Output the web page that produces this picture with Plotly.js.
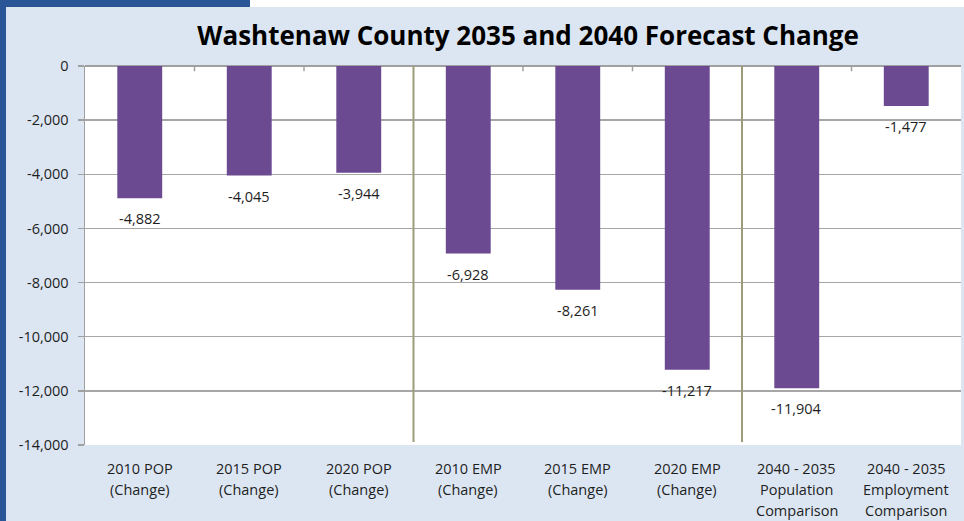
<!DOCTYPE html>
<html>
<head>
<meta charset="utf-8">
<script src="https://cdn.plot.ly/plotly-3.0.1.min.js"></script>
<style>
  html, body { margin: 0; padding: 0; background: #ffffff; }
  #wrap { position: relative; width: 964px; height: 521px; overflow: hidden; background: #ffffff; }
  #bandLeft { position: absolute; left: 0; top: 0; width: 6px; height: 521px; background: #2A5597; }
  #bandTop { position: absolute; left: 0; top: 0; width: 250px; height: 7px; background: #2A5597; }
  #chart { position: absolute; left: 6px; top: 7px; width: 958px; height: 514px; }
</style>
</head>
<body>
<div id="wrap">
  <div id="bandLeft"></div>
  <div id="bandTop"></div>
  <div id="chart"></div>
</div>
<script>
const categories = [
  "2010 POP<br>(Change)",
  "2015 POP<br>(Change)",
  "2020 POP<br>(Change)",
  "2010 EMP<br>(Change)",
  "2015 EMP<br>(Change)",
  "2020 EMP<br>(Change)",
  "2040 - 2035<br>Population<br>Comparison",
  "2040 - 2035<br>Employment<br>Comparison"
];
const changeValues = [-4882, -4045, -3944, -6928, -8261, -11217, -11904, -1477];
const yTickValues = [0, -2000, -4000, -6000, -8000, -10000, -12000, -14000];

const fmt = v => v.toLocaleString('en-US');
const fontFam = '"Open Sans", "Liberation Sans", Arial, sans-serif';
const txtColor = '#1e1e1e';

const bars = {
  type: 'bar',
  x: categories,
  y: changeValues,
  width: 0.41,
  marker: { color: '#6B4A92', line: { width: 0 } },
  hoverinfo: 'skip',
  showlegend: false
};

const valueLabels = categories.map((c, i) => ({
  x: c, y: changeValues[i], xref: 'x', yref: 'y',
  text: fmt(changeValues[i]), showarrow: false,
  yanchor: 'top', yshift: -9,
  font: { family: fontFam, size: 14.5, color: txtColor }
}));

const catLabels = [];
categories.forEach(c => {
  c.split('<br>').forEach((line, j) => {
    catLabels.push({
      x: c, xref: 'x', y: 0, yref: 'paper',
      text: line, showarrow: false,
      yanchor: 'middle', yshift: -(23 + 21 * j),
      font: { family: fontFam, size: 14.5, color: txtColor }
    });
  });
});

const layout = {
  width: 958, height: 514,
  margin: { l: 79, r: 3, t: 59, b: 76 },
  paper_bgcolor: '#DCE6F2',
  plot_bgcolor: '#ffffff',
  title: {
    text: '<b>Washtenaw County 2035 and 2040 Forecast Change</b>',
    font: { family: fontFam, size: 26, color: '#000000' },
    x: 0.545, xanchor: 'center', y: 0.943, yanchor: 'middle'
  },
  xaxis: {
    type: 'category',
    showticklabels: false,
    showgrid: false, showline: false, ticks: '',
    range: [-0.5, 7.5], fixedrange: true
  },
  yaxis: {
    range: [-14000, 0],
    tickmode: 'array',
    tickvals: yTickValues,
    ticktext: yTickValues.map(fmt),
    tickfont: { family: fontFam, size: 14.5, color: txtColor },
    ticks: 'outside', ticklen: 6, tickcolor: '#A0A0A0', tickwidth: 1.5,
    ticklabelstandoff: 6,
    showline: true, linecolor: '#A0A0A0', linewidth: 1.5,
    showgrid: true, gridcolor: '#A6A6A6', gridwidth: 1.5,
    zeroline: true, zerolinecolor: '#A0A0A0', zerolinewidth: 1.5,
    fixedrange: true
  },
  shapes: [2.5, 5.5].map(xv => ({
    type: 'line', xref: 'x', yref: 'paper', x0: xv, x1: xv, y0: 0.008, y1: 1,
    line: { color: '#9C9C78', width: 2 }
  })).concat([0.5, 1.5, 3.5, 4.5, 6.5].map(xv => ({
    type: 'line', xref: 'x', yref: 'paper', x0: xv, x1: xv, y0: 0.986, y1: 1,
    line: { color: '#A0A0A0', width: 1.5 }
  }))),
  annotations: valueLabels.concat(catLabels),
  bargap: 0.59
};

Plotly.newPlot('chart', [bars], layout, { displayModeBar: false, staticPlot: true });
</script>
</body>
</html>
